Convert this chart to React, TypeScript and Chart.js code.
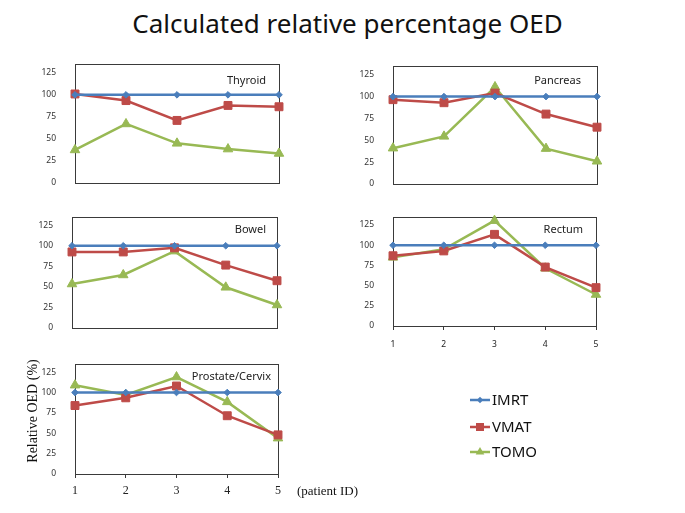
import React, { useEffect, useRef } from "react";
import { Chart, registerables } from "chart.js";

Chart.register(...registerables);

// ---------- data ----------
const patientLabels = ["1", "2", "3", "4", "5"];
const seriesNames = ["IMRT", "VMAT", "TOMO"];
const seriesColors = ["#4A7EBB", "#BE4B48", "#98B954"];

const thyroidIMRT = [100, 100, 100, 100, 100];
const thyroidVMAT = [101, 93.5, 71, 88, 86.5];
const thyroidTOMO = [37.5, 67, 45, 38.5, 33.5];

const pancreasIMRT = [100, 100, 100, 100, 100];
const pancreasVMAT = [96.5, 93, 104, 80, 65];
const pancreasTOMO = [41, 54.5, 111, 40.5, 26];

const bowelIMRT = [100, 100, 100, 100, 100];
const bowelVMAT = [92.5, 92.5, 97.5, 76.5, 57.5];
const bowelTOMO = [53.5, 64.5, 93.5, 49.5, 28];

const rectumIMRT = [100, 100, 100, 100, 100];
const rectumVMAT = [87, 93, 113.5, 73, 47.5];
const rectumTOMO = [85, 95, 130.5, 71.5, 39];

const prostateIMRT = [100, 100, 100, 100, 100];
const prostateVMAT = [84, 93.5, 108, 71.5, 48];
const prostateTOMO = [109, 97, 119, 88.5, 44];

const yMin = 0;
const yMax = 135;
const yStep = 25;

const mainTitle = "Calculated relative percentage OED";
const yAxisTitle = "Relative OED (%)";
const xAxisTitle = "(patient ID)";

const SANS = "'Noto Sans', 'Open Sans', sans-serif";
const SERIF = "'Liberation Serif', 'DejaVu Serif', serif";

type Rect = { x: number; y: number; w: number; h: number };
type Box = { l: number; t: number; r: number; b: number };

type PanelProps = {
  name: string;
  imrt: number[];
  vmat: number[];
  tomo: number[];
  canvas: Rect;
  box: Box;
  xTicks: "none" | "sans" | "serif";
  titleDx: number;
  titleDy: number;
  extra?: boolean;
};

const YW = 40;

function drawMarker(ctx: CanvasRenderingContext2D, kind: number, x: number, y: number, color: string) {
  ctx.save();
  ctx.fillStyle = color;
  ctx.strokeStyle = color;
  ctx.beginPath();
  if (kind === 0) {
    const r = 3.2;
    ctx.moveTo(x, y - r);
    ctx.lineTo(x + r, y);
    ctx.lineTo(x, y + r);
    ctx.lineTo(x - r, y);
  } else if (kind === 1) {
    const s = 4;
    ctx.rect(x - s, y - s, 2 * s, 2 * s);
  } else {
    const r = 5;
    ctx.moveTo(x, y - r);
    ctx.lineTo(x + r * 0.866, y + r * 0.5);
    ctx.lineTo(x - r * 0.866, y + r * 0.5);
  }
  ctx.closePath();
  ctx.fill();
  ctx.restore();
}

function Panel(props: PanelProps) {
  const ref = useRef<HTMLCanvasElement>(null);
  useEffect(() => {
    const { canvas: c, box, xTicks } = props;
    const xh = xTicks === "none" ? 0 : 30;
    const panelPlugin = {
      id: "panelDeco",
      beforeDatasetsDraw(chart: any) {
        const ctx = chart.ctx as CanvasRenderingContext2D;
        const a = chart.chartArea;
        ctx.save();
        ctx.strokeStyle = "#3a3a3a";
        ctx.lineWidth = 1;
        ctx.strokeRect(Math.round(a.left) + 0.5, Math.round(a.top) + 0.5, Math.round(a.right - a.left), Math.round(a.bottom - a.top));
        ctx.fillStyle = "#222";
        ctx.font = `11px ${SANS}`;
        ctx.textAlign = "right";
        ctx.textBaseline = "middle";
        ctx.fillText(props.name, a.right - props.titleDx, a.top + props.titleDy);
        ctx.restore();
      },
      afterDraw(chart: any) {
        if (!props.extra) return;
        const ctx = chart.ctx as CanvasRenderingContext2D;
        ctx.save();
        // y axis title
        ctx.fillStyle = "#111";
        ctx.font = `14px ${SERIF}`;
        ctx.textAlign = "center";
        ctx.textBaseline = "middle";
        ctx.translate(33 - c.x, 411 - c.y);
        ctx.rotate(-Math.PI / 2);
        ctx.fillText(yAxisTitle, 0, 0);
        ctx.restore();
        ctx.save();
        ctx.fillStyle = "#111";
        ctx.font = `13px ${SERIF}`;
        ctx.textAlign = "left";
        ctx.textBaseline = "middle";
        ctx.fillText(xAxisTitle, 297 - c.x, 492 - c.y);
        // legend
        const ys = [400, 427, 452];
        for (let i = 0; i < 3; i++) {
          const y = ys[i] - c.y;
          ctx.strokeStyle = seriesColors[i];
          ctx.lineWidth = 2.5;
          ctx.beginPath();
          ctx.moveTo(470 - c.x, y);
          ctx.lineTo(490 - c.x, y);
          ctx.stroke();
          drawMarker(ctx, i, 480 - c.x, y, seriesColors[i]);
          ctx.fillStyle = "#111";
          ctx.font = `15px ${SANS}`;
          ctx.textAlign = "left";
          ctx.textBaseline = "middle";
          ctx.fillText(seriesNames[i], 492 - c.x, y + 1);
        }
        ctx.restore();
      },
    };
    const mk = (label: string, data: number[], color: string, style: string, radius: number) => ({
      label,
      data,
      borderColor: color,
      backgroundColor: color,
      borderWidth: 2.5,
      pointStyle: style,
      pointRadius: radius,
      pointBorderWidth: 1,
      pointBorderColor: color,
      pointBackgroundColor: color,
      tension: 0,
      clip: false as any,
    });
    const chart = new Chart(ref.current!, {
      type: "line",
      data: {
        labels: patientLabels,
        datasets: [
          mk(seriesNames[0], props.imrt, seriesColors[0], "rectRot", 3.3),
          mk(seriesNames[1], props.vmat, seriesColors[1], "rect", 5.6),
          mk(seriesNames[2], props.tomo, seriesColors[2], "triangle", 5.5),
        ],
      },
      options: {
        animation: false,
        responsive: false,
        events: [],
        layout: {
          padding: {
            left: box.l - c.x - YW,
            top: box.t - c.y,
            right: c.x + c.w - box.r,
            bottom: c.y + c.h - box.b - xh,
          },
        },
        plugins: {
          legend: { display: false },
          title: { display: false },
          tooltip: { enabled: false },
        },
        scales: {
          x: {
            type: "category",
            offset: false,
            display: true,
            grid: {
              display: xTicks !== "none",
              drawOnChartArea: false,
              drawTicks: true,
              tickLength: 4,
              color: "#3a3a3a",
            },
            border: { display: false },
            ticks: {
              display: xTicks !== "none",
              autoSkip: false,
              maxRotation: 0,
              padding: xTicks === "serif" ? 6 : 9,
              color: "#222",
              font: xTicks === "serif" ? { family: SERIF, size: 12 } : { family: SANS, size: 8.5 },
            },
            afterFit: (s: any) => {
              s.height = xh;
            },
          },
          y: {
            type: "linear",
            min: yMin,
            max: yMax,
            grid: { display: false },
            border: { display: false },
            ticks: {
              stepSize: yStep,
              includeBounds: false,
              autoSkip: false,
              padding: 11,
              color: "#333",
              font: { family: SANS, size: 8.5 },
            },
            afterFit: (s: any) => {
              s.width = YW;
            },
          },
        },
      },
      plugins: [panelPlugin],
    } as any);
    return () => chart.destroy();
  }, []);
  const c = props.canvas;
  return (
    <canvas
      ref={ref}
      width={c.w}
      height={c.h}
      style={{ position: "absolute", left: c.x, top: c.y, width: c.w, height: c.h }}
    />
  );
}

export default function App() {
  return (
    <div style={{ position: "absolute", left: 0, top: 0, width: 685, height: 513, background: "#fff", overflow: "hidden" }}>
      <div
        style={{
          position: "absolute",
          left: 5,
          top: 7,
          width: 685,
          textAlign: "center",
          fontFamily: SANS,
          fontSize: 26,
          lineHeight: "32px",
          color: "#111",
          whiteSpace: "nowrap",
        }}
      >
        {mainTitle}
      </div>
      <Panel name="Thyroid" imrt={thyroidIMRT} vmat={thyroidVMAT} tomo={thyroidTOMO}
        canvas={{ x: 20, y: 44, w: 275, h: 158 }} box={{ l: 75, t: 64, r: 279, b: 183 }}
        xTicks="none" titleDx={13} titleDy={17} />
      <Panel name="Pancreas" imrt={pancreasIMRT} vmat={pancreasVMAT} tomo={pancreasTOMO}
        canvas={{ x: 338, y: 46, w: 275, h: 158 }} box={{ l: 393, t: 66, r: 597, b: 184 }}
        xTicks="none" titleDx={16} titleDy={15} />
      <Panel name="Bowel" imrt={bowelIMRT} vmat={bowelVMAT} tomo={bowelTOMO}
        canvas={{ x: 20, y: 197, w: 275, h: 152 }} box={{ l: 72, t: 217, r: 277, b: 328 }}
        xTicks="none" titleDx={11} titleDy={13} />
      <Panel name="Rectum" imrt={rectumIMRT} vmat={rectumVMAT} tomo={rectumTOMO}
        canvas={{ x: 338, y: 197, w: 275, h: 163 }} box={{ l: 393, t: 217, r: 596, b: 326 }}
        xTicks="sans" titleDx={13} titleDy={13} />
      <Panel name="Prostate/Cervix" imrt={prostateIMRT} vmat={prostateVMAT} tomo={prostateTOMO}
        canvas={{ x: 0, y: 344, w: 685, h: 169 }} box={{ l: 75, t: 364, r: 278, b: 474 }}
        xTicks="serif" titleDx={7} titleDy={13} extra />
    </div>
  );
}
